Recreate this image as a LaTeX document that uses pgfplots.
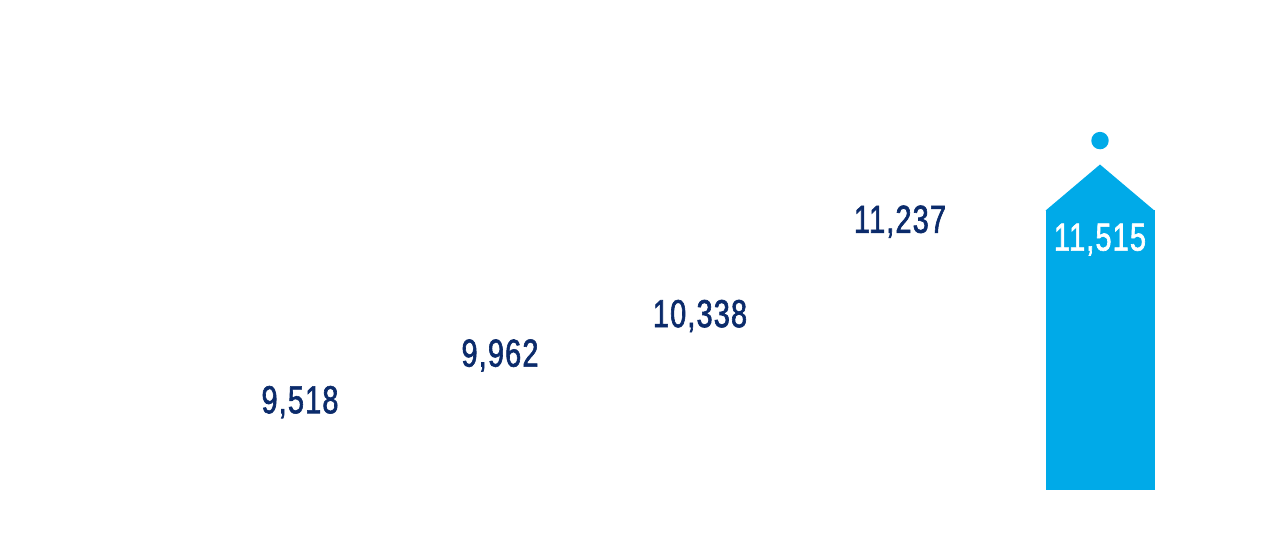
\documentclass[border=0pt]{standalone}
\usepackage{fontspec}
\setmainfont{Liberation Sans}
\newfontfamily\cond[FakeStretch=0.74,LetterSpace=3,FakeBold=1.6]{Liberation Sans}
\usepackage{pgfplots}
\pgfplotsset{compat=1.18}
\definecolor{navy}{HTML}{0B2B6B}
\definecolor{sky}{HTML}{00AAE8}
\begin{document}
\begin{tikzpicture}
\begin{axis}[
  scale only axis, width=12.8cm, height=4.9cm,
  xmin=-1.5, xmax=4.9, ymin=8844, ymax=13511,
  hide axis,
  /pgf/number format/.cd, fixed, precision=0, 1000 sep={,}, assume math mode=true,
]
\addplot[ybar, bar width=10.9mm, bar shift=0pt, fill=white, draw=none,
  nodes near coords,
  every node near coord/.append style={font=\cond\fontsize{11.1}{12}\selectfont, text=navy, anchor=base, yshift=0.6mm, inner sep=0pt}]
  coordinates {(0,9518) (1,9962) (2,10338) (3,11237)};
\addplot[ybar, bar width=10.9mm, bar shift=0pt, fill=sky, draw=none,
  nodes near coords,
  every node near coord/.append style={font=\cond\fontsize{11.1}{12}\selectfont, text=white, anchor=base, yshift=-4.1mm, inner sep=0pt}]
  coordinates {(4,11515)};
\addplot[fill=sky, draw=none] coordinates {(3.7275,11505) (4,11944) (4.2725,11505)};
\addplot[only marks, mark=*, mark size=0.8mm, color=sky] coordinates {(4,12172)};
\end{axis}
\pgfresetboundingbox
\path[use as bounding box] (current axis.south west) ++(0,-0.49cm) rectangle (current axis.north east);
\end{tikzpicture}
\end{document}
